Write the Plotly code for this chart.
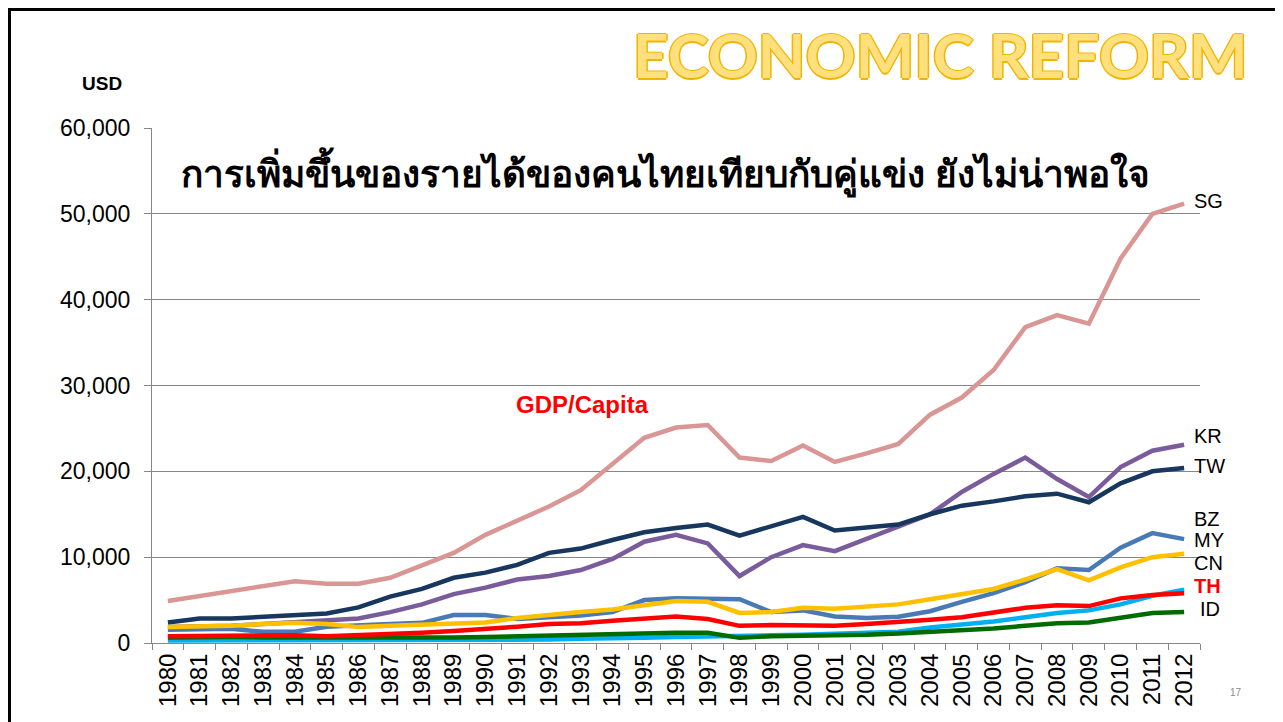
import plotly.graph_objects as go

years = [str(y) for y in range(1980, 2013)]

# GDP per capita, USD
sg = [4900, 5500, 6000, 6600, 7200, 6900, 6900, 7600, 9100, 10500, 12600, 14200, 15900,
      17800, 20900, 23900, 25100, 25400, 21600, 21200, 23000, 21100, 22100, 23200, 26600,
      28600, 31800, 36800, 38200, 37200, 44800, 50000, 51200]
kr = [1850, 1900, 2000, 2200, 2400, 2550, 2850, 3600, 4500, 5700, 6450, 7400, 7800,
      8500, 9800, 11800, 12600, 11600, 7800, 10000, 11400, 10700, 12100, 13500, 15000,
      17600, 19700, 21600, 19100, 17000, 20500, 22400, 23100]
tw = [2400, 2850, 2850, 3050, 3300, 3450, 4150, 5400, 6300, 7600, 8200, 9100, 10500,
      11000, 12000, 12900, 13400, 13800, 12500, 13600, 14700, 13100, 13400, 13800, 15000,
      16000, 16500, 17100, 17400, 16400, 18600, 20000, 20400]
bz = [1550, 1600, 1650, 1300, 1300, 1900, 2100, 2200, 2350, 3250, 3250, 2800, 3000,
      3200, 3600, 5000, 5200, 5200, 5100, 3600, 3800, 3100, 2900, 3050, 3700,
      4800, 5800, 7100, 8700, 8500, 11100, 12800, 12100]
my = [1850, 1900, 2000, 2200, 2350, 2200, 1850, 2000, 2100, 2300, 2400, 2900, 3300,
      3600, 3900, 4400, 4900, 4800, 3500, 3600, 4100, 4000, 4200, 4500, 5100,
      5700, 6300, 7400, 8600, 7300, 8800, 10000, 10400]
cn = [300, 300, 300, 300, 300, 300, 300, 300, 350, 400, 350, 350, 400,
      500, 500, 600, 700, 800, 850, 900, 950, 1050, 1150, 1300, 1800,
      2100, 2500, 3000, 3500, 3800, 4500, 5500, 6200]
th = [800, 850, 850, 900, 900, 800, 900, 1000, 1200, 1400, 1600, 1900, 2200,
      2300, 2600, 2900, 3100, 2800, 2000, 2100, 2100, 2000, 2200, 2400, 2700,
      3000, 3500, 4100, 4400, 4300, 5200, 5600, 5800]
id_ = [650, 700, 700, 650, 650, 600, 550, 550, 600, 650, 700, 800, 900,
       1000, 1050, 1150, 1200, 1200, 600, 800, 850, 800, 950, 1100, 1300,
       1400, 1700, 2000, 2300, 2400, 3000, 3500, 3600]

y_ticks = [0, 10000, 20000, 30000, 40000, 50000, 60000]

# name, values, colour, label y position, label x shift
series = [
    ('SG', sg, '#D99694', 51500, 8),
    ('KR', kr, '#7A5C9C', 24100, 8),
    ('TW', tw, '#17375E', 20600, 8),
    ('BZ', bz, '#4A7AB5', 14450, 8),
    ('CN', cn, '#00B0F0', 9300, 8),
    ('ID', id_, '#006C00', 3950, 14),
    ('MY', my, '#FFC000', 12000, 8),
    ('TH', th, '#FF0000', 6650, 8),
]

# page body has an 8px margin, so work in screen pixels and shift
OFF = 8
W, H = 1283 - OFF, 722 - OFF
L, R, T, B = 152 - OFF, W - (1200 - OFF), 128 - OFF, H - (643 - OFF)


def px(x):
    return (x - OFF - L) / (W - L - R)


def py(y):
    return (H - B - (y - OFF)) / (H - T - B)


fig = go.Figure()
for name, vals, color, _, _ in series:
    fig.add_trace(go.Scatter(x=years, y=vals, name=name, mode='lines',
                             line=dict(color=color, width=4.5), showlegend=False))

# series labels at the right end (category index of last year)
last = len(years) - 1
for name, vals, color, ly, xs in series:
    txt_color = '#FF0000' if name == 'TH' else '#000000'
    txt = '<b>TH</b>' if name == 'TH' else name
    fig.add_annotation(x=last, y=ly, xref='x', yref='y', text=txt, showarrow=False,
                       xanchor='left', yanchor='middle', xshift=xs,
                       font=dict(size=20, color=txt_color, family='Liberation Sans, Arial'))

fig.add_annotation(x=px(940), y=py(54), xref='paper', yref='paper',
                   text='<b>ECONOMIC REFORM</b>', showarrow=False,
                   xanchor='center', yanchor='middle',
                   font=dict(size=62, color='#FFE07C', family='Lato, Open Sans',
                             shadow='1.5px 0 #F2B400, -1.5px 0 #F2B400, 0 1.5px #F2B400, 0 -1.5px #F2B400'))

fig.add_annotation(x=px(665), y=py(172), xref='paper', yref='paper',
                   text='<b>การเพิ่มขึ้นของรายได้ของคนไทยเทียบกับคู่แข่ง ยังไม่น่าพอใจ</b>',
                   showarrow=False, xanchor='center', yanchor='middle',
                   font=dict(size=37, color='#000000'))

fig.add_annotation(x=px(102), y=py(84), xref='paper', yref='paper', text='<b>USD</b>',
                   showarrow=False, xanchor='center', yanchor='middle',
                   font=dict(size=19, color='#000000', family='Liberation Sans, Arial'))

fig.add_annotation(x=px(582), y=py(404), xref='paper', yref='paper', text='<b>GDP/Capita</b>',
                   showarrow=False, xanchor='center', yanchor='middle',
                   font=dict(size=24, color='#FF0000', family='Liberation Sans, Arial'))

fig.add_annotation(x=px(1236), y=py(692), xref='paper', yref='paper', text='17',
                   showarrow=False, xanchor='center', yanchor='middle',
                   font=dict(size=10, color='#8C8C8C'))

# slide border
fig.add_shape(type='rect', xref='paper', yref='paper',
              x0=px(9.5), x1=px(1280), y0=py(760), y1=py(9.5),
              line=dict(color='#000000', width=3), fillcolor='rgba(0,0,0,0)')

fig.update_layout(
    width=W, height=H,
    margin=dict(l=L, r=R, t=T, b=B),
    plot_bgcolor='white', paper_bgcolor='white',
    font=dict(family='Liberation Sans, Arial', color='#000000'),
)
fig.update_xaxes(type='category', range=[-0.5, len(years) - 0.5], tickson='boundaries',
                 ticks='outside', ticklen=6, tickcolor='#868686', showline=True,
                 linecolor='#868686', linewidth=1, showgrid=False, tickangle=-90,
                 tickfont=dict(size=24))
fig.update_yaxes(range=[0, 60000], tickvals=y_ticks, tickformat=',', showgrid=True,
                 gridcolor='#868686', gridwidth=1, ticks='outside', ticklen=7,
                 tickcolor='#868686', showline=True, linecolor='#868686', zeroline=False,
                 tickfont=dict(size=23), ticklabelstandoff=9)

fig.write_html('out.html')
